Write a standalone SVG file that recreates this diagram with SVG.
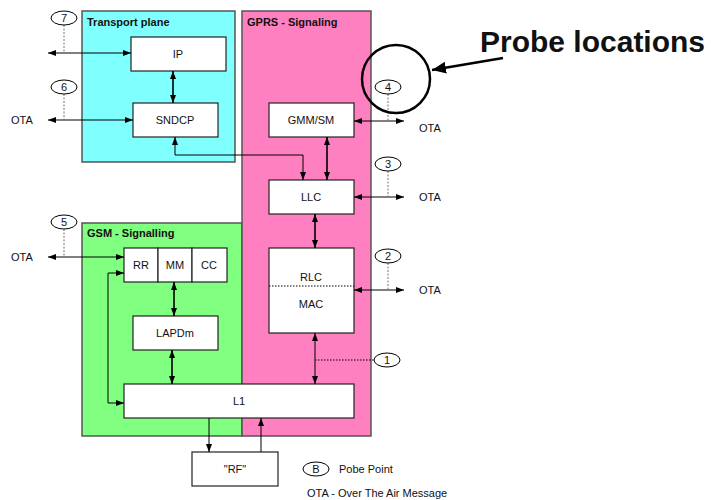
<svg xmlns="http://www.w3.org/2000/svg" width="711" height="500" viewBox="0 0 711 500">
  <style>
    text { font-family: "Liberation Sans", Arial, sans-serif; fill: #111; }
    .lbl { font-size: 11px; text-anchor: middle; dominant-baseline: central; }
    .title { font-size: 11px; font-weight: bold; }
    .ota { font-size: 11px; dominant-baseline: central; }
    .plane { stroke: #555; stroke-width: 1.5; }
    .box { fill: #fff; stroke: #222; stroke-width: 1.2; }
    .con { fill: none; stroke: #000; stroke-width: 1; }
    .thick { stroke-width: 1.6; }
    .probe { fill: #fff; stroke: #000; stroke-width: 1; }
    .tap { fill: none; stroke: #777; stroke-width: 1; stroke-dasharray: 2 1.5; }
  </style>
  <defs>
    <marker id="ah" viewBox="0 0 8 6" refX="8" refY="3" markerWidth="8" markerHeight="6" markerUnits="userSpaceOnUse" orient="auto-start-reverse">
      <path d="M0,0 L8,3 L0,6 z" fill="#000"/>
    </marker>
    <marker id="bigah" viewBox="0 0 14 12" refX="14" refY="6" markerWidth="14" markerHeight="12" markerUnits="userSpaceOnUse" orient="auto">
      <path d="M0,0 L14,6 L0,12 z" fill="#000"/>
    </marker>
  </defs>

  <rect width="711" height="500" fill="#fff"/>

  <!-- protocol planes -->
  <g id="transport-plane">
    <rect class="plane" x="82" y="11" width="153" height="151" fill="#80FFFF"/>
    <text class="title" x="87" y="26">Transport plane</text>
  </g>
  <g id="gsm-signalling">
    <rect class="plane" x="82" y="223" width="160" height="213" fill="#80FF80"/>
    <text class="title" x="87" y="237">GSM - Signalling</text>
  </g>
  <g id="gprs-signaling">
    <rect class="plane" x="242" y="11" width="129" height="425" fill="#FF80C0"/>
    <text class="title" x="247" y="26">GPRS - Signaling</text>
  </g>

  <!-- protocol blocks -->
  <g id="ip"><rect class="box" x="131" y="37" width="95" height="34"/><text class="lbl" x="178" y="54">IP</text></g>
  <g id="sndcp"><rect class="box" x="133" y="103" width="85" height="34"/><text class="lbl" x="175" y="120">SNDCP</text></g>
  <g id="gmm-sm"><rect class="box" x="269" y="103" width="85" height="34"/><text class="lbl" x="311" y="120">GMM/SM</text></g>
  <g id="llc"><rect class="box" x="269" y="180" width="85" height="34"/><text class="lbl" x="311" y="197">LLC</text></g>
  <g id="rlc-mac">
    <rect class="box" x="269" y="248" width="85" height="85"/>
    <line x1="269" y1="286" x2="354" y2="286" stroke="#000" stroke-width="1" stroke-dasharray="1.5 1.5"/>
    <text class="lbl" x="311" y="277">RLC</text>
    <text class="lbl" x="311" y="304">MAC</text>
  </g>
  <g id="rr-mm-cc">
    <rect class="box" x="124" y="248" width="34" height="34"/><text class="lbl" x="141" y="265">RR</text>
    <rect class="box" x="158" y="248" width="34" height="34"/><text class="lbl" x="175" y="265">MM</text>
    <rect class="box" x="192" y="248" width="35" height="34"/><text class="lbl" x="209" y="265">CC</text>
  </g>
  <g id="lapdm"><rect class="box" x="133" y="316" width="85" height="34"/><text class="lbl" x="175" y="333">LAPDm</text></g>
  <g id="l1"><rect class="box" x="124" y="384" width="230" height="34"/><text class="lbl" x="239" y="401">L1</text></g>
  <g id="rf"><rect class="box" x="192" y="452" width="86" height="34"/><text class="lbl" x="235" y="469">"RF"</text></g>

  <!-- connectors -->
  <g id="connectors">
    <line class="con thick" x1="173" y1="71" x2="173" y2="103" marker-start="url(#ah)" marker-end="url(#ah)"/>
    <polyline class="con" points="175,137 175,155 303,155 303,180" marker-start="url(#ah)" marker-end="url(#ah)"/>
    <line class="con thick" x1="327" y1="137" x2="327" y2="180" marker-start="url(#ah)" marker-end="url(#ah)"/>
    <line class="con thick" x1="315" y1="214" x2="315" y2="248" marker-start="url(#ah)" marker-end="url(#ah)"/>
    <line class="con" x1="315" y1="333" x2="315" y2="384" marker-start="url(#ah)" marker-end="url(#ah)"/>
    <line class="con thick" x1="174" y1="282" x2="174" y2="316" marker-start="url(#ah)" marker-end="url(#ah)"/>
    <line class="con thick" x1="172" y1="350" x2="172" y2="384" marker-start="url(#ah)" marker-end="url(#ah)"/>
    <polyline class="con" points="124,273 108,273 108,403 124,403" marker-start="url(#ah)" marker-end="url(#ah)"/>
    <line class="con" x1="209" y1="418" x2="209" y2="452" marker-end="url(#ah)"/>
    <line class="con" x1="261" y1="452" x2="261" y2="418" marker-end="url(#ah)"/>

    <!-- over-the-air links -->
    <line class="con" x1="48" y1="53" x2="131" y2="53" marker-start="url(#ah)" marker-end="url(#ah)"/>
    <line class="con" x1="48" y1="120" x2="133" y2="120" marker-start="url(#ah)" marker-end="url(#ah)"/>
    <line class="con" x1="48" y1="257" x2="124" y2="257" marker-start="url(#ah)" marker-end="url(#ah)"/>
    <line class="con" x1="354" y1="121" x2="404" y2="121" marker-start="url(#ah)" marker-end="url(#ah)"/>
    <line class="con" x1="354" y1="197" x2="404" y2="197" marker-start="url(#ah)" marker-end="url(#ah)"/>
    <line class="con" x1="354" y1="290" x2="404" y2="290" marker-start="url(#ah)" marker-end="url(#ah)"/>

    <!-- probe taps -->
    <line class="tap" x1="64" y1="25" x2="64" y2="53"/>
    <line class="tap" x1="64" y1="94" x2="64" y2="120"/>
    <line class="tap" x1="64" y1="229" x2="64" y2="257"/>
    <line class="tap" x1="388" y1="94" x2="388" y2="121"/>
    <line class="tap" x1="388" y1="171" x2="388" y2="197"/>
    <line class="tap" x1="388" y1="263" x2="388" y2="290"/>
    <line x1="315" y1="360" x2="374" y2="360" stroke="#000" stroke-width="1" stroke-dasharray="1.5 1.5"/>

    <!-- callout -->
    <line x1="503" y1="58" x2="432" y2="70" stroke="#000" stroke-width="2.5" marker-end="url(#bigah)"/>
  </g>

  <!-- probe points -->
  <g id="probe-7"><ellipse class="probe" cx="64" cy="18" rx="13" ry="7"/><text class="lbl" x="64" y="18">7</text></g>
  <g id="probe-6"><ellipse class="probe" cx="64" cy="87" rx="13" ry="7"/><text class="lbl" x="64" y="87">6</text></g>
  <g id="probe-5"><ellipse class="probe" cx="64" cy="222" rx="13" ry="7"/><text class="lbl" x="64" y="222">5</text></g>
  <g id="probe-4"><ellipse class="probe" cx="388" cy="87" rx="13" ry="7"/><text class="lbl" x="388" y="87">4</text></g>
  <g id="probe-3"><ellipse class="probe" cx="388" cy="164" rx="13" ry="7"/><text class="lbl" x="388" y="164">3</text></g>
  <g id="probe-2"><ellipse class="probe" cx="388" cy="256" rx="13" ry="7"/><text class="lbl" x="388" y="256">2</text></g>
  <g id="probe-1"><ellipse class="probe" cx="387" cy="360" rx="13" ry="7"/><text class="lbl" x="387" y="360">1</text></g>

  <!-- OTA labels -->
  <text class="ota" x="11" y="120">OTA</text>
  <text class="ota" x="11" y="257">OTA</text>
  <text class="ota" x="419" y="128">OTA</text>
  <text class="ota" x="419" y="197">OTA</text>
  <text class="ota" x="419" y="290">OTA</text>

  <!-- highlight -->
  <circle cx="396" cy="79" r="34" fill="none" stroke="#000" stroke-width="2.5"/>
  <text x="480" y="52" font-size="30" font-weight="bold">Probe locations</text>

  <!-- legend -->
  <g id="legend">
    <ellipse class="probe" cx="316" cy="469" rx="13" ry="7"/><text class="lbl" x="316" y="469">B</text>
    <text class="ota" x="339" y="469">Pobe Point</text>
    <text class="ota" x="307" y="493">OTA - Over The Air Message</text>
  </g>
</svg>
